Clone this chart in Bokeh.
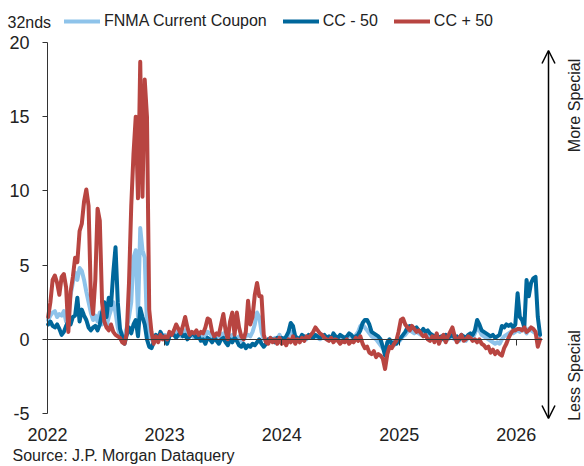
import pandas as pd
from math import pi
from bokeh.plotting import figure
from bokeh.models import (Range1d, DatetimeAxis, LinearAxis, FixedTicker, DatetimeTickFormatter,
                          PrintfTickFormatter, Legend, LegendItem, Label, Arrow, OpenHead,
                          ColumnDataSource)
from bokeh.embed import file_html
from bokeh.resources import INLINE

# ---------------- data (weekly observations from 2022-01-03) ----------------
start_date = "2022-01-03"

fnma_cc = [
    # 2022
    1.3, 1.6, 1.8, 1.9, 1.5, 1.7, 1.6, 1.9, 1.2, 2.0,
    3.0, 3.8, 4.5, 4.0, 4.8, 4.6, 4.0, 3.2, 2.5, 1.8,
    1.3, 1.6, 1.2, 1.8, 1.0, 1.3, 0.9, 1.5, 2.0, 2.5,
    1.8, 0.8, 0.2, 0.0, 0.2, 0.8, 1.5, 2.5, 5.5, 6.0,
    1.5, 7.5, 6.0, 5.5, 1.0, 0.3, 0.0, -0.2, 0.2, 0.1,
    0.3, 0.2,
    # 2023
    0.3, 0.2, 0.4, 0.3, 0.5, 0.5, 0.3, 0.2, 0.4, 0.6,
    0.4, 0.2, 0.3, 0.1, 0.3, 0.2, 0.3, 0.1, 0.2, 0.5,
    0.4, 0.2, 0.0, 0.1, 0.2, 0.3, 0.4, 0.1, 0.0, 0.2,
    0.3, 0.0, 0.1, 0.2, -0.1, 0.0, 0.2, 0.3, 0.2, 0.5,
    1.0, 1.8, 1.5, 0.5, 0.0, -0.1, 0.0, 0.1, 0.0, 0.1,
    0.0, 0.3,
    # 2024
    0.0, 0.1, 0.0, 0.2, 0.5, 0.4, 0.1, 0.0, 0.1, 0.2,
    0.1, 0.0, 0.2, 0.1, 0.2, 0.2, 0.1, 0.0, 0.1, 0.2,
    0.0, 0.1, 0.0, 0.2, 0.1, 0.0, 0.1, 0.1, 0.0, 0.1,
    0.2, 0.2, 0.0, 0.3, 0.5, 0.9, 1.0, 0.8, 0.6, 0.4,
    0.2, 0.1, 0.0, -0.2, -0.4, -0.6, -0.8, -0.3, -0.1, -0.3,
    -0.4, -0.2,
    # 2025
    -0.2, 0.0, 0.2, 0.3, 0.5, 0.6, 0.5, 0.4, 0.5, 0.4,
    0.3, 0.5, 0.3, 0.4, 0.2, 0.1, 0.0, 0.2, -0.1, 0.0,
    0.1, 0.1, 0.0, 0.2, 0.1, 0.0, 0.1, -0.1, 0.1, 0.0,
    -0.1, 0.1, 0.2, 0.1, 0.4, 0.8, 0.6, 0.3, 0.2, 0.1,
    0.0, -0.1, -0.2, -0.3, -0.2, -0.3, 0.0, 0.2, 0.3, 0.4,
    0.5, 0.4,
    # 2026
    0.5, 0.6, 0.5, 0.7, 0.6, 0.4, 0.7, 0.6, 0.5, 0.4, 0.2, 0.3,
]

cc_minus_50 = [
    # 2022
    1.0, 1.2, 0.9, 0.8, 1.0, 0.7, 0.3, 0.5, 0.9, 1.2,
    1.0, 1.5, 1.6, 2.8, 1.2, 2.0, 1.6, 1.3, 0.8, 0.6,
    0.8, 0.9, 0.6, 1.0, 1.8, 2.5, 1.5, 2.8, 2.3, 4.5,
    6.2, 2.5, 0.7, 0.2, -0.3, 0.3, 0.8, 0.4, 1.0, 1.3,
    0.2, 2.1, 1.5, 1.0, 0.0, -0.5, -0.6, -0.2, 0.3, 0.0,
    0.5, 0.2,
    # 2023
    0.0, -0.3, 0.2, 0.4, 0.3, 0.1, 0.3, 0.5, 0.2, 0.3,
    0.0, 0.2, 0.4, 0.3, 0.1, 0.2, -0.1, 0.0, -0.3, 0.1,
    0.0, -0.2, 0.1, -0.1, -0.3, 0.0, 0.1, -0.2, -0.4, 0.0,
    -0.2, 0.1, -0.1, -0.4, -0.5, -0.3, -0.6, -0.4, -0.5, -0.3,
    -0.4, -0.2, 0.0, -0.3, -0.5, -0.3, 0.0, -0.1, 0.0, -0.2,
    0.1, 0.0,
    # 2024
    0.1, 0.0, 0.2, 0.5, 1.1, 0.9, 0.2, 0.1, 0.0, 0.3,
    0.2, 0.1, 0.3, 0.2, 0.1, 0.3, 0.2, 0.1, 0.2, 0.3,
    0.1, 0.2, 0.0, 0.4, 0.2, 0.1, 0.3, 0.2, 0.1, 0.2,
    0.4, 0.3, 0.1, 0.2, 0.3, 0.6, 1.1, 1.3, 1.3, 1.0,
    0.5, 0.4, 0.3, 0.2, 0.0, -0.5, -1.1, -0.2, 0.0, -0.3,
    -0.2, -0.3,
    # 2025
    -0.1, 0.1, 0.3, 0.5, 0.8, 0.9, 0.8, 0.7, 0.8, 0.6,
    0.5, 0.7, 0.5, 0.6, 0.4, 0.3, 0.2, 0.3, 0.1, 0.2,
    0.0, 0.3, 0.1, 0.2, 0.3, 0.1, 0.2, 0.0, 0.3, 0.2,
    0.1, 0.3, 0.4, 0.3, 0.6, 1.3, 1.0, 0.6, 0.5, 0.4,
    0.3, 0.2, 0.3, 0.1, 0.2, 0.3, 0.9, 0.8, 1.0, 0.9,
    1.0, 0.8,
    # 2026
    1.0, 3.1, 1.5, 1.3, 0.8, 4.0, 2.9, 3.8, 4.1, 4.2, 1.5, 0.3,
]

cc_plus_50 = [
    # 2022
    1.5, 2.5, 4.0, 4.3, 3.8, 3.0, 4.2, 4.4, 3.5, 0.5,
    3.2, 4.2, 5.5, 5.2, 7.3, 7.8, 9.3, 10.1, 9.0, 3.0,
    1.7, 4.0, 8.8, 8.0, 2.5, 1.2, 0.8, 0.6, 1.0, 0.5,
    0.3, 0.2, 0.1, -0.2, -0.3, 0.4, 3.8, 9.0, 12.5, 15.0,
    9.5, 18.7, 9.6, 17.5, 15.0, 2.0, 0.5, -0.3, 0.2, -0.2,
    0.3, 0.0,
    # 2023
    0.2, 0.0, 0.5, 0.3, 0.6, 1.0, 0.7, 0.4, 0.9, 1.5,
    0.8, 0.3, 0.5, 0.4, 0.6, 0.3, 0.5, 0.4, 0.8, 1.4,
    1.3, 0.5, 0.2, 0.4, 0.3, 1.0, 1.7, 0.6, 0.0, 1.2,
    1.8, 0.3, 1.8, 0.8, 0.2, 0.0, 0.5, 2.6, 1.0, 1.5,
    3.0, 3.8, 2.9, 2.9, 0.3, -0.2, -0.3, 0.1, -0.2, 0.0,
    -0.3, 0.1,
    # 2024
    -0.3, -0.1, -0.4, 0.0, -0.2, 0.2, -0.3, 0.0, -0.2, 0.1,
    -0.1, 0.2, 0.1, 0.3, 0.5, 0.8, 0.6, 0.4, 0.3, 0.1,
    0.0, -0.1, 0.1, -0.2, 0.0, -0.1, -0.3, -0.1, -0.2, 0.0,
    -0.3, -0.1, -0.2, 0.1, -0.1, 0.2, -0.3, -0.6, -0.5, -0.9,
    -1.0, -0.8, -1.2, -1.0, -1.1, -1.3, -2.0, -1.0, -0.5, -0.6,
    -0.3, -0.1,
    # 2025
    0.5, 1.3, 1.4, 1.0, 0.8, 0.6, 0.9, 0.7, 0.5, 0.6,
    0.4, 0.2, 0.3, 0.0, -0.1, 0.2, -0.2, 0.4, -0.3, 0.1,
    0.3, -0.2, 0.2, 0.5, 0.8, 0.2, -0.2, 0.1, 0.3, -0.1,
    0.0, 0.2, 0.1, -0.1, 0.0, -0.2, 0.0, -0.3, -0.4, -0.6,
    -0.5, -0.9, -0.7, -1.0, -0.8, -1.0, -1.1, -0.6, -0.3, 0.1,
    0.4, 0.6,
    # 2026
    0.6, 0.7, 0.7, 0.6, 0.8, 0.5, 0.6, 0.8, 0.7, 0.5, -0.5, 0.0,
]

series_names = ["FNMA Current Coupon", "CC - 50", "CC + 50"]
series_values = [fnma_cc, cc_minus_50, cc_plus_50]
series_colors = ["#8EC3EA", "#00679B", "#B84541"]
year_ticks = [2022, 2023, 2024, 2025, 2026]
y_ticks = [-5, 0, 5, 10, 15, 20]
y_unit = "32nds"
source_note = "Source: J.P. Morgan Dataquery"
side_top = "More Special"
side_bottom = "Less Special"

FONT = "Liberation Sans"
TXT = "#222222"
AXC = "#333333"

# ---------------- layout (frame covers the whole canvas) ----------------
W, H = 584, 466
plot_left, plot_top, plot_bottom = 47, 42, 413      # canvas px of 2022-01-01, y=20, y=-5
px_per_unit = (plot_bottom - plot_top) / 25.0
px_per_day = 117.2 / 365.25
t0 = pd.Timestamp("2022-01-01")
x_start = t0 - pd.Timedelta(days=plot_left / px_per_day)
x_end = t0 + pd.Timedelta(days=(W - plot_left) / px_per_day)
y_lo = -5 - (H - plot_bottom) / px_per_unit
y_hi = 20 + plot_top / px_per_unit

p = figure(width=W, height=H, output_backend="svg", toolbar_location=None,
           x_axis_type=None, y_axis_location=None,
           x_range=Range1d(x_start, x_end), y_range=Range1d(y_lo, y_hi))
p.min_border = 0
p.min_border_left = 0
p.min_border_right = 0
p.min_border_top = 0
p.min_border_bottom = 0
p.outline_line_color = None
p.xgrid.visible = False
p.ygrid.visible = False
p.background_fill_color = "white"
p.border_fill_color = "white"

t0_ms = t0.value // 10**6
year_ms = [pd.Timestamp(f"{y}-01-01").value // 10**6 for y in year_ticks]
fmt = DatetimeTickFormatter(years="%Y", months="%Y", days="%Y", hours="%Y")

# y axis at 2022-01-01
yax = LinearAxis(ticker=FixedTicker(ticks=y_ticks), formatter=PrintfTickFormatter(format="%d"))
yax.fixed_location = t0_ms
yax.bounds = (-5, 20)
yax.axis_line_color = AXC
yax.major_tick_line_color = AXC
yax.major_tick_out = 5
yax.major_tick_in = 0
yax.minor_tick_line_color = None
yax.major_label_standoff = 13
yax.major_label_text_font = FONT
yax.major_label_text_font_size = "18px"
yax.major_label_text_color = TXT
p.add_layout(yax, "left")

# zero-line axis with ticks (drawn at y = 0)
zax = DatetimeAxis(ticker=FixedTicker(ticks=year_ms), formatter=fmt)
zax.fixed_location = 0
zax.bounds = (t0_ms, pd.Timestamp("2026-03-25").value // 10**6)
zax.axis_line_color = AXC
zax.major_tick_line_color = AXC
zax.major_tick_in = 6
zax.major_tick_out = 0
zax.minor_tick_line_color = None
zax.major_label_text_font_size = "0px"
zax.major_label_text_alpha = 0
p.add_layout(zax, "above")

# year labels below y = -5
lax = DatetimeAxis(ticker=FixedTicker(ticks=year_ms), formatter=fmt)
lax.fixed_location = -5
lax.axis_line_color = None
lax.major_tick_line_color = None
lax.minor_tick_line_color = None
lax.major_tick_in = 0
lax.major_tick_out = 0
lax.major_label_standoff = 14
lax.major_label_text_font = FONT
lax.major_label_text_font_size = "18px"
lax.major_label_text_color = TXT
p.add_layout(lax, "below")

renderers = []
for name, vals, col in zip(series_names, series_values, series_colors):
    src = ColumnDataSource(dict(
        date=pd.date_range(start_date, periods=len(vals), freq="7D"),
        value=vals))
    r = p.line("date", "value", source=src, line_color=col, line_width=4,
               line_join="round", line_cap="round")
    renderers.append(r)

# legend: location is its bottom-left corner, measured up from the frame bottom
legend = Legend(items=[LegendItem(label=n, renderers=[r]) for n, r in zip(series_names, renderers)],
                orientation="horizontal", location=(64, H - 31))
legend.padding = 0
legend.margin = 0
legend.spacing = 16
legend.glyph_width = 36
legend.glyph_height = 20
legend.label_height = 20
legend.label_standoff = 4
legend.border_line_alpha = 0
legend.background_fill_alpha = 0
legend.label_text_font = FONT
legend.label_text_font_size = "16px"
legend.label_text_color = TXT
p.add_layout(legend)

def lab(x, y, text, **kw):
    p.add_layout(Label(x=x, y=H - y, x_units="screen", y_units="screen", text=text,
                       text_font=FONT, text_font_size="16px", text_color=TXT, **kw))

lab(7, 22, y_unit, text_baseline="alphabetic", text_align="left")
lab(12, 455, source_note, text_baseline="alphabetic", text_align="left")
lab(574, 105, side_top, angle=pi / 2, text_baseline="middle", text_align="center")
lab(574, 375, side_bottom, angle=pi / 2, text_baseline="middle", text_align="center")

p.add_layout(Arrow(x_start=548, y_start=H - 418, x_end=548, y_end=H - 50,
                   start_units="screen", end_units="screen",
                   start=OpenHead(size=13, line_width=1.5, line_color="black"),
                   end=OpenHead(size=13, line_width=1.5, line_color="black"),
                   line_width=1.5, line_color="black"))

open("out.html", "w").write(file_html(p, INLINE))
